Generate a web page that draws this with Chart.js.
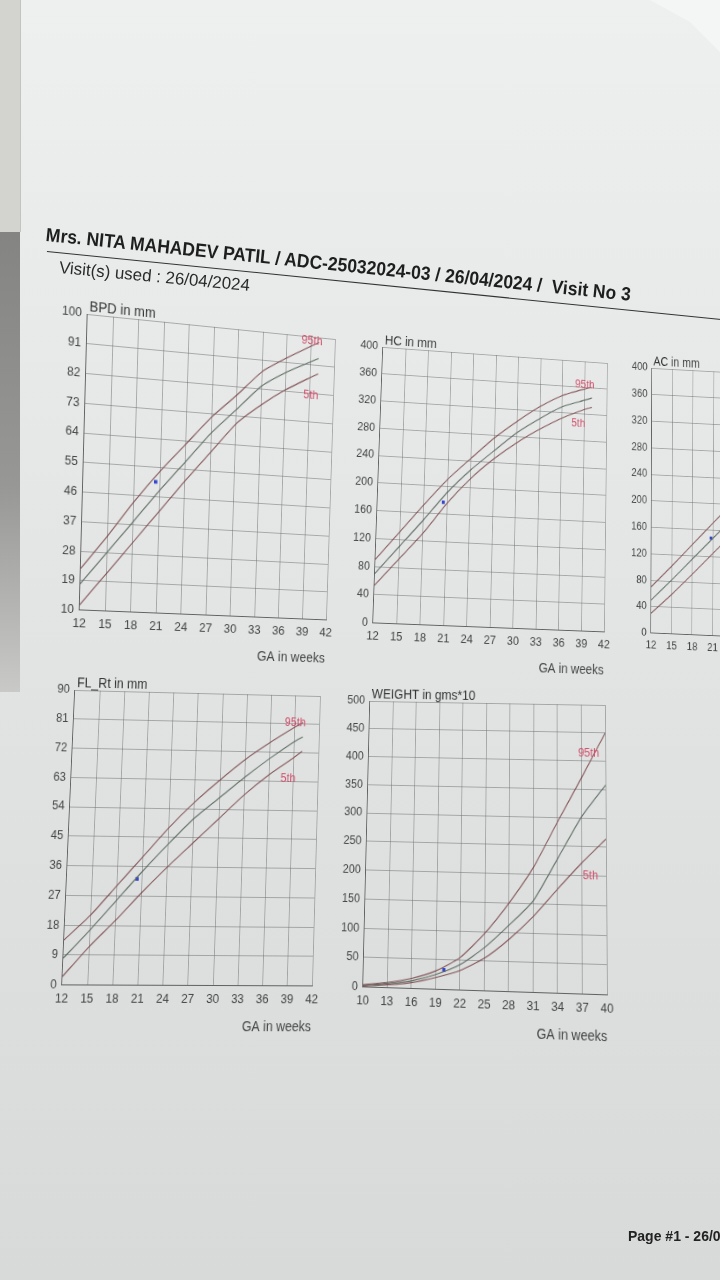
<!DOCTYPE html>
<html>
<head>
<meta charset="utf-8">
<script src="https://cdn.jsdelivr.net/npm/chart.js@4.4.1/dist/chart.umd.min.js"></script>
<style>
  html, body { margin: 0; padding: 0; }
  body {
    width: 720px; height: 1280px; overflow: hidden; position: relative;
    background: linear-gradient(180deg, #eef0f0 0%, #e7e9e9 30%, #e0e2e2 60%, #d8dada 100%);
    font-family: "Liberation Sans", Arial, sans-serif;
  }
  #page { position: absolute; left: 0; top: 0; width: 720px; height: 1280px; filter: blur(0.35px); }
  .chartBox { position: absolute; left: 0; top: 0; transform-origin: 0 0; }
  .chartBox canvas { display: block; }
  .txt { position: absolute; white-space: nowrap; transform-origin: 0 0; line-height: 1; }
  #edgeTop { position: absolute; left: 0; top: 0; width: 20px; height: 232px; background: #d3d4cf; border-right: 1px solid #c3c4bf; }
  #edgeDark { position: absolute; left: 0; top: 232px; width: 20px; height: 460px;
    background: linear-gradient(180deg, #848583 0%, #979896 55%, #c9cac8 100%); }
  #curl { position: absolute; left: 0; top: 0; width: 720px; height: 80px; background: #f4f5f5;
    clip-path: polygon(650px 0, 720px 0, 720px 52px, 690px 22px); }
  #underline { position: absolute; left: 47px; top: 251px; width: 700px; height: 0;
    border-top: 1.5px solid #333; transform-origin: 0 0; transform: rotate(5.75deg); }
</style>
</head>
<body>
<div id="page">
  <div id="edgeTop"></div>
  <div id="edgeDark"></div>
  <div id="curl"></div>

  <div id="title" class="txt" style="left:47px; top:225px; font-weight:bold; font-size:19px; color:#1e1e1e;">Mrs. NITA MAHADEV PATIL / ADC-25032024-03 / 26/04/2024 /&nbsp; Visit No 3</div>
  <div id="underline"></div>
  <div id="visit" class="txt" style="left:60px; top:259px; font-size:17px; color:#2a2a2a;">Visit(s) used : 26/04/2024</div>
  <div id="pageNo" class="txt" style="left:628px; top:1229px; font-weight:bold; font-size:14px; color:#222;">Page #1 - 26/04/2024</div>

  <div class="chartBox" id="boxBpd"><canvas id="bpd" width="330" height="372"></canvas></div>
  <div class="chartBox" id="boxHc"><canvas id="hc" width="330" height="372"></canvas></div>
  <div class="chartBox" id="boxAc"><canvas id="ac" width="330" height="372"></canvas></div>
  <div class="chartBox" id="boxFl"><canvas id="fl" width="330" height="372"></canvas></div>
  <div class="chartBox" id="boxWt"><canvas id="wt" width="330" height="372"></canvas></div>
</div>

<script>
// ---- data ----
const gaWeeks = [12, 15, 18, 21, 24, 27, 30, 33, 36, 39, 40];
const gaTicks = [12, 15, 18, 21, 24, 27, 30, 33, 36, 39, 42];

const bpdTicks = [10, 19, 28, 37, 46, 55, 64, 73, 82, 91, 100];
const bpd95 = [22.7, 33, 44, 54, 63, 72, 79.5, 87.5, 92.5, 97, 98.4];
const bpd50 = [18, 28, 38, 48, 57.5, 67, 75, 83, 88, 92, 93.3];
const bpd5 = [11.6, 21.5, 31.5, 41.5, 51.5, 61, 70.5, 77, 82.5, 87, 88.4];
const bpdVisitGa = [20.5];
const bpdVisit = [50.6];

const hcTicks = [0, 40, 80, 120, 160, 200, 240, 280, 320, 360, 400];
const hc95 = [90, 131, 172, 211, 244, 276, 303, 327, 346, 358, 361];
const hc50 = [70, 110, 150, 192, 227, 257, 286, 309, 329, 341, 345];
const hc5 = [53, 92, 131, 176, 214, 245, 271, 293, 312, 327, 331];
const hcVisitGa = [20.5];
const hcVisit = [177];

const acTicks = [0, 40, 80, 120, 160, 200, 240, 280, 320, 360, 400];
const ac95 = [70, 103, 137, 171, 205, 238, 270, 300, 328, 355, 362];
const ac50 = [50, 82, 115, 148, 181, 214, 245, 275, 303, 328, 335];
const ac5 = [30, 60, 92, 125, 158, 190, 220, 250, 278, 300, 308];
const acVisitGa = [20.7];
const acVisit = [148];

const flTicks = [0, 9, 18, 27, 36, 45, 54, 63, 72, 81, 90];
const fl95 = [13.5, 21, 30, 39, 48, 56, 63, 69.5, 75, 80, 81.5];
const fl50 = [8, 16.5, 25.5, 34.5, 43, 51, 57.5, 64, 70, 75.5, 77];
const fl5 = [2.5, 11.5, 19.5, 28, 36, 43.5, 51, 58.5, 65, 70.5, 72.5];
const flVisitGa = [20.4];
const flVisit = [32.2];

const wtWeeks = [10, 13, 16, 19, 22, 25, 28, 31, 34, 37, 40];
const wtXTicks = [10, 13, 16, 19, 22, 25, 28, 31, 34, 37, 40];
const wtTicks = [0, 50, 100, 150, 200, 250, 300, 350, 400, 450, 500];
const wt95 = [4, 9, 17, 31, 55, 97, 150, 212, 292, 370, 450];
const wt50 = [3, 7, 13, 25, 43, 73, 112, 155, 228, 302, 358];
const wt5 = [2, 5, 10, 20, 33, 55, 88, 128, 176, 222, 264];
const wtVisitGa = [20];
const wtVisit = [33];

// ---- styling ----
Chart.defaults.font.family = '"Liberation Sans", Arial, sans-serif';
const GRID = 'rgba(105,105,105,0.5)';
const AXIS = 'rgba(75,75,75,0.75)';
const TICK = '#444';
const OUTER = 'rgba(120,66,68,0.85)';
const MID = 'rgba(85,100,88,0.9)';
const MARK = '#3446d0';
const PCT = '#d0506a';

// solve the 8 unknowns of a plane homography (photo is shot at an angle)
function solve(A, b) {
  const n = b.length;
  const M = A.map((row, i) => row.concat([b[i]]));
  for (let c = 0; c < n; c++) {
    let p = c;
    for (let r = c + 1; r < n; r++) if (Math.abs(M[r][c]) > Math.abs(M[p][c])) p = r;
    [M[c], M[p]] = [M[p], M[c]];
    for (let r = 0; r < n; r++) {
      if (r === c) continue;
      const f = M[r][c] / M[c][c];
      for (let k = c; k <= n; k++) M[r][k] -= f * M[c][k];
    }
  }
  return M.map((row, i) => row[n] / row[i]);
}

function homography(src, dst) {
  const A = [], b = [];
  for (let i = 0; i < 4; i++) {
    const [x, y] = src[i], [u, v] = dst[i];
    A.push([x, y, 1, 0, 0, 0, -u * x, -u * y]); b.push(u);
    A.push([0, 0, 0, x, y, 1, -v * x, -v * y]); b.push(v);
  }
  const h = solve(A, b);
  return `matrix3d(${h[0]},${h[3]},0,${h[6]},${h[1]},${h[4]},0,${h[7]},0,0,1,0,${h[2]},${h[5]},0,1)`;
}

const chartText = {
  id: 'chartText',
  afterDraw(chart, args, opts) {
    const { ctx, chartArea, scales } = chart;
    ctx.save();
    ctx.font = '14px "Liberation Sans", Arial, sans-serif';
    ctx.fillStyle = '#333';
    ctx.textAlign = 'left';
    ctx.textBaseline = 'bottom';
    ctx.fillText(opts.title, chartArea.left + 2, chartArea.top);

    const n = opts.weeks.length - 1;
    const x = scales.x.getPixelForValue(opts.weeks[n]);
    ctx.font = '12.5px "Liberation Sans", Arial, sans-serif';
    ctx.fillStyle = PCT;
    ctx.textAlign = 'right';
    ctx.textBaseline = 'middle';
    ctx.fillText('95th', x + opts.o95[0], scales.y.getPixelForValue(opts.p95[n]) + opts.o95[1]);
    ctx.fillText('5th', x + opts.o5[0], scales.y.getPixelForValue(opts.p5[n]) + opts.o5[1]);
    ctx.restore();
  }
};

function pts(xs, ys) {
  return xs.map((x, i) => ({ x: x, y: ys[i] }));
}

function makeChart(id, boxId, c) {
  const line = (data, color) => ({
    type: 'line', data: data, borderColor: color, borderWidth: 1.15,
    pointRadius: 0, tension: 0.2, fill: false
  });
  const chart = new Chart(document.getElementById(id), {
    type: 'line',
    data: {
      datasets: [
        line(pts(c.weeks, c.p95), OUTER),
        line(pts(c.weeks, c.p50), MID),
        line(pts(c.weeks, c.p5), OUTER),
        {
          type: 'scatter', data: pts(c.visitGa, c.visit),
          pointStyle: 'rect', pointRadius: 2.6, backgroundColor: MARK, borderColor: MARK, borderWidth: 0
        }
      ]
    },
    options: {
      responsive: false,
      animation: false,
      events: [],
      layout: { padding: { top: 22, right: 18, left: 4, bottom: 2 } },
      plugins: {
        legend: { display: false },
        tooltip: { enabled: false },
        chartText: { title: c.title, weeks: c.weeks, p95: c.p95, p5: c.p5, o95: c.o95, o5: c.o5 }
      },
      scales: {
        x: {
          type: 'linear', min: c.xTicks[0], max: c.xTicks[c.xTicks.length - 1],
          afterBuildTicks: s => { s.ticks = c.xTicks.map(v => ({ value: v })); },
          grid: { color: GRID, lineWidth: 1, drawTicks: false },
          border: { color: AXIS, width: 1 },
          ticks: { padding: 6, color: TICK, font: { size: 13 }, autoSkip: false, maxRotation: 0 },
          title: { display: true, text: 'GA in weeks', align: 'end', color: TICK, font: { size: 14 }, padding: { top: 6, bottom: 0 } }
        },
        y: {
          type: 'linear', min: c.yTicks[0], max: c.yTicks[c.yTicks.length - 1],
          afterBuildTicks: s => { s.ticks = c.yTicks.map(v => ({ value: v })); },
          grid: { color: GRID, lineWidth: 1, drawTicks: false },
          border: { color: AXIS, width: 1 },
          ticks: { padding: 6, color: TICK, font: { size: 12.5 }, autoSkip: false }
        }
      }
    },
    plugins: [chartText]
  });
  const a = chart.chartArea;
  const src = [[a.left, a.top], [a.right, a.top], [a.right, a.bottom], [a.left, a.bottom]];
  document.getElementById(boxId).style.transform = homography(src, c.quad);
  return chart;
}

makeChart('bpd', 'boxBpd', {
  title: 'BPD in mm', weeks: gaWeeks, xTicks: gaTicks, yTicks: bpdTicks,
  p95: bpd95, p50: bpd50, p5: bpd5, visitGa: bpdVisitGa, visit: bpdVisit,
  o95: [4, -1], o5: [1, 23],
  quad: [[87.5, 314], [335, 339], [326, 620], [79.5, 610]]
});
makeChart('hc', 'boxHc', {
  title: 'HC in mm', weeks: gaWeeks, xTicks: gaTicks, yTicks: hcTicks,
  p95: hc95, p50: hc50, p5: hc5, visitGa: hcVisitGa, visit: hcVisit,
  o95: [3, -2], o5: [-8, 19],
  quad: [[383, 347], [607, 363], [604, 632], [373, 623]]
});
makeChart('ac', 'boxAc', {
  title: 'AC in mm', weeks: gaWeeks, xTicks: gaTicks, yTicks: acTicks,
  p95: ac95, p50: ac50, p5: ac5, visitGa: acVisitGa, visit: acVisit,
  o95: [3, -2], o5: [-8, 18],
  quad: [[652, 368], [857, 379], [855, 642], [651, 633]]
});
makeChart('fl', 'boxFl', {
  title: 'FL_Rt in mm', weeks: gaWeeks, xTicks: gaTicks, yTicks: flTicks,
  p95: fl95, p50: fl50, p5: fl5, visitGa: flVisitGa, visit: flVisit,
  o95: [3, 0], o5: [-7, 29],
  quad: [[75, 690], [320, 696], [312, 986], [62, 985]]
});
makeChart('wt', 'boxWt', {
  title: 'WEIGHT in gms*10', weeks: wtWeeks, xTicks: wtXTicks, yTicks: wtTicks,
  p95: wt95, p50: wt50, p5: wt5, visitGa: wtVisitGa, visit: wtVisit,
  o95: [-7, 22], o5: [-9, 38],
  quad: [[370, 701], [605, 705], [607, 995], [363, 987]]
});

// header text: fit to the measured span in the photo, then tilt
function fitText(id, width, angle) {
  const el = document.getElementById(id);
  const k = width / el.offsetWidth;
  el.style.transform = `rotate(${angle}deg) scaleX(${k})`;
}
fitText('title', 588, 5.85);
fitText('visit', 191, 5.4);
</script>
</body>
</html>
